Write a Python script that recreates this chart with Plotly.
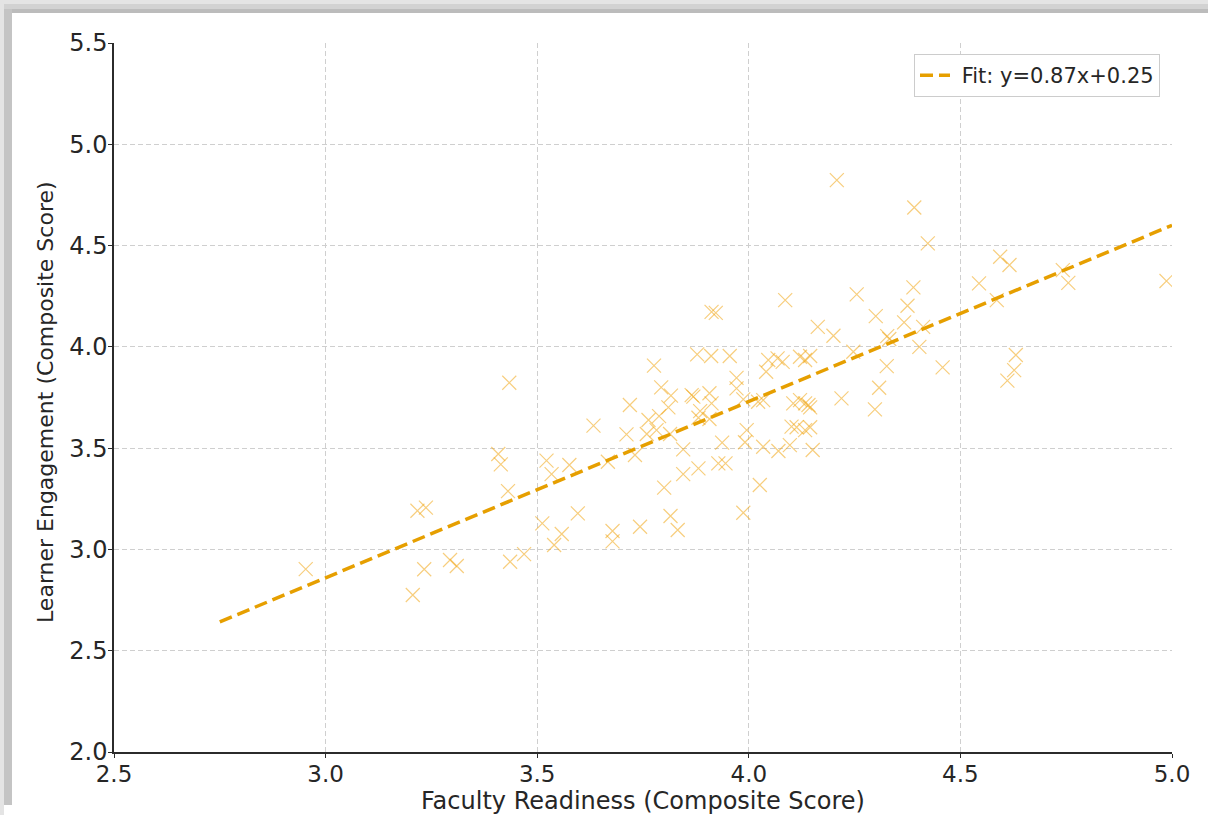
import plotly.graph_objects as go

# Faculty readiness (x) and learner engagement (y)
readiness = [
    2.953, 3.206, 3.217, 3.237, 3.233, 3.294, 3.310, 3.408, 3.414, 3.434,
    3.431, 3.436, 3.469, 3.512, 3.522, 3.534, 3.540, 3.558, 3.576, 3.596,
    3.633, 3.667, 3.678, 3.678, 3.711, 3.719, 3.731, 3.743, 3.759, 3.763,
    3.776, 3.782, 3.788, 3.793, 3.800, 3.810, 3.814, 3.815, 3.816, 3.832,
    3.845, 3.845, 3.865, 3.869, 3.878, 3.881, 3.881, 3.885, 3.907, 3.907,
    3.911, 3.912, 3.912, 3.922, 3.928, 3.937, 3.945, 3.955, 3.971, 3.971,
    3.987, 3.987, 3.995, 3.991, 4.022, 4.026, 4.034, 4.034, 4.041, 4.046,
    4.068, 4.070, 4.080, 4.086, 4.097, 4.101, 4.105, 4.113, 4.121, 4.121,
    4.133, 4.133, 4.133, 4.141, 4.145, 4.145, 4.145, 4.151, 4.163, 4.200,
    4.208, 4.219, 4.247, 4.255, 4.298, 4.300, 4.308, 4.326, 4.327, 4.332,
    4.367, 4.375, 4.389, 4.391, 4.403, 4.412, 4.423, 4.458, 4.544, 4.586,
    4.594, 4.611, 4.616, 4.627, 4.631, 4.742, 4.755, 4.987,
]
engagement = [
    2.903, 2.775, 3.191, 3.206, 2.902, 2.948, 2.918, 3.471, 3.420, 3.823,
    3.288, 2.939, 2.977, 3.129, 3.438, 3.372, 3.022, 3.076, 3.417, 3.178,
    3.611, 3.433, 3.091, 3.040, 3.568, 3.713, 3.466, 3.112, 3.570, 3.639,
    3.907, 3.589, 3.658, 3.800, 3.305, 3.701, 3.570, 3.165, 3.759, 3.096,
    3.494, 3.372, 3.762, 3.754, 3.963, 3.650, 3.400, 3.683, 3.771, 3.644,
    3.955, 3.721, 4.173, 4.168, 3.425, 3.527, 3.425, 3.955, 3.847, 3.795,
    3.741, 3.181, 3.589, 3.529, 3.729, 3.318, 3.737, 3.507, 3.877, 3.935,
    3.943, 3.486, 3.926, 4.231, 3.515, 3.606, 3.721, 3.603, 3.951, 3.737,
    3.935, 3.721, 3.589, 3.713, 3.955, 3.701, 3.603, 3.491, 4.099, 4.055,
    4.823, 3.746, 3.976, 4.259, 3.691, 4.152, 3.798, 3.905, 4.053, 4.039,
    4.121, 4.203, 4.294, 4.688, 4.000, 4.099, 4.511, 3.899, 4.313, 4.231,
    4.445, 3.833, 4.404, 3.885, 3.960, 4.379, 4.316, 4.325,
]

fit_slope = 0.87
fit_intercept = 0.25
fit_x = [2.75, 5.0]
fit_label = "Fit: y=0.87x+0.25"

x_ticks = [2.5, 3.0, 3.5, 4.0, 4.5, 5.0]
y_ticks = [2.0, 2.5, 3.0, 3.5, 4.0, 4.5, 5.0, 5.5]

x_title = "Faculty Readiness (Composite Score)"
y_title = "Learner Engagement (Composite Score)"

fit_y = [fit_slope * v + fit_intercept for v in fit_x]

W, H = 1208, 828
ML, MR, MT, MB = 114, 36, 43, 76
PW, PH = W - ML - MR, H - MT - MB

fig = go.Figure()
fig.add_trace(go.Scatter(
    x=readiness, y=engagement, mode="markers", showlegend=False,
    marker=dict(symbol="x-thin", size=14, color="rgba(230,159,0,0.55)",
                line=dict(width=1.2, color="rgba(240,165,20,0.55)")),
))
fig.add_trace(go.Scatter(
    x=fit_x, y=fit_y, mode="lines", name="\u00a0" + fit_label,
    line=dict(color="#E69F00", width=3.5, dash="13px,6px"),
))

font = "DejaVu Sans"
axis_common = dict(
    showline=True, linecolor="#2b2b2b", linewidth=1.5, mirror=False,
    ticks="outside", ticklen=4, tickwidth=1.2, tickcolor="#2b2b2b",
    showgrid=True, gridcolor="#cfcfcf", gridwidth=1, griddash="5px,3px",
    zeroline=False, tickformat=".1f",
)
fig.update_xaxes(range=[2.5, 5.0], tickvals=x_ticks, ticklabelstandoff=-3,
                 tickfont=dict(family=font, size=23, color="#262626"),
                 **axis_common)
fig.update_yaxes(range=[2.0, 5.5], tickvals=y_ticks, ticklabelstandoff=-4,
                 tickfont=dict(family=font, size=24, color="#262626"),
                 **axis_common)


def px_x(p):
    return (p - ML) / PW


def px_y(p):
    return 1 - (p - MT) / PH


fig.add_annotation(text=x_title, xref="paper", yref="paper",
                   x=px_x(643), y=px_y(801), showarrow=False,
                   xanchor="center", yanchor="middle",
                   font=dict(family=font, size=24, color="#262626"))
fig.add_annotation(text=y_title, xref="paper", yref="paper",
                   x=px_x(45), y=px_y(402), showarrow=False, textangle=-90,
                   xanchor="center", yanchor="middle",
                   font=dict(family=font, size=22, color="#262626"))

shapes = [
    dict(type="rect", xref="paper", yref="paper", x0=px_x(0), x1=px_x(W),
         y0=px_y(0), y1=px_y(4), fillcolor="#e4e4e4", line_width=0, layer="below"),
    dict(type="rect", xref="paper", yref="paper", x0=px_x(4), x1=px_x(W),
         y0=px_y(4), y1=px_y(9), fillcolor="#d2d2d2", line_width=0, layer="below"),
    dict(type="rect", xref="paper", yref="paper", x0=px_x(8), x1=px_x(W),
         y0=px_y(9), y1=px_y(13), fillcolor="#bcbcbc", line_width=0, layer="below"),
    dict(type="rect", xref="paper", yref="paper", x0=px_x(0), x1=px_x(4),
         y0=px_y(4), y1=px_y(815), fillcolor="#e4e4e4", line_width=0, layer="below"),
    dict(type="rect", xref="paper", yref="paper", x0=px_x(4), x1=px_x(12),
         y0=px_y(9), y1=px_y(805), fillcolor="#c4c4c4", line_width=0, layer="below"),
]

fig.update_layout(
    width=W, height=H,
    margin=dict(l=ML, r=MR, t=MT, b=MB, autoexpand=False),
    paper_bgcolor="white", plot_bgcolor="white",
    font=dict(family=font, color="#262626"),
    shapes=shapes,
    legend=dict(x=px_x(1160), y=px_y(54), xanchor="right", yanchor="top",
                bgcolor="white", bordercolor="#cccccc", borderwidth=1,
                font=dict(family=font, size=21, color="#262626"),
                itemwidth=30, tracegroupgap=0),
)

fig.write_html(
    "out.html",
    config={"displayModeBar": False},
    post_script="document.body.style.margin='0';document.body.style.overflow='hidden';",
)
